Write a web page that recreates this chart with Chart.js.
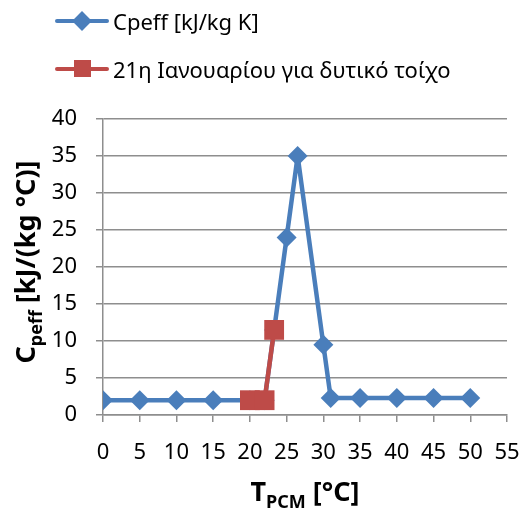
<!DOCTYPE html>
<html>
<head>
<meta charset="utf-8">
<script src="https://cdn.jsdelivr.net/npm/chart.js@4.4.1/dist/chart.umd.min.js"></script>
<style>
  html, body { margin: 0; padding: 0; background: #fff; }
  #wrap { position: relative; width: 523px; height: 512px; }
  #chart { position: absolute; left: 0; top: 0; }
  .leg { position: absolute; left: 55px; height: 26px; display: flex; align-items: center;
         font-family: "Noto Sans", sans-serif; font-size: 22px; color: #000; white-space: nowrap; }
  .sw { position: relative; width: 54px; height: 26px; margin-right: 4px; }
  .sw .ln { position: absolute; left: 0; right: 0; top: 11px; height: 4px; border-radius: 2px; }
  .sw .mk { position: absolute; }
</style>
</head>
<body>
<div id="wrap">
  <canvas id="chart" width="523" height="512"></canvas>
  <div class="leg" style="top:8px">
    <div class="sw"><div class="ln" style="background:#4a7ebb"></div>
      <div class="mk" style="left:20px;top:6px;width:14px;height:14px;background:#4a7ebb;transform:rotate(45deg)"></div></div>
    <span>Cpeff [kJ/kg K]</span>
  </div>
  <div class="leg" style="top:56px">
    <div class="sw"><div class="ln" style="background:#be4b48"></div>
      <div class="mk" style="left:19px;top:4px;width:17px;height:17px;background:#be4b48"></div></div>
    <span>21η Ιανουαρίου για δυτικό τοίχο</span>
  </div>
</div>
<script>
// values
const cpeffT = [0, 5, 10, 15, 20, 22, 23.3, 25, 26.5, 30, 31, 35, 40, 45, 50];
const cpeffVal = [2, 2, 2, 2, 2, 2, 11.5, 24, 35, 9.5, 2.3, 2.3, 2.3, 2.3, 2.3];
const janT = [20, 22, 23.3];
const janVal = [2, 2, 11.5];

const BLUE = '#4a7ebb';
const RED = '#be4b48';
const GRID = '#8e8e8e';
const FONT = '"Noto Sans", sans-serif';

const toXY = (xs, ys) => xs.map((x, i) => ({ x, y: ys[i] }));

// axis titles with subscripts
const axisTitles = {
  id: 'axisTitles',
  afterDraw(chart) {
    const ctx = chart.ctx, a = chart.chartArea;
    const big = 'bold 27px ' + FONT, small = 'bold 18px ' + FONT;
    function parts(list) {
      let w = 0;
      list.forEach(p => { ctx.font = p[1]; p.w = ctx.measureText(p[0]).width; w += p.w; });
      return w;
    }
    function draw(list, x0, y0) {
      let x = x0;
      list.forEach(p => { ctx.font = p[1]; ctx.fillText(p[0], x, y0 + p[2]); x += p.w; });
    }
    ctx.save();
    ctx.fillStyle = '#000';
    ctx.textBaseline = 'alphabetic';
    // x title
    const xt = [['T', big, 0], ['PCM', small, 7], [' [°C]', big, 0]];
    const xw = parts(xt);
    draw(xt, (a.left + a.right) / 2 - xw / 2, 501);
    // y title
    const yt = [['C', big, 0], ['peff', small, 7], [' [kJ/(kg °C)]', big, 0]];
    const yw = parts(yt);
    ctx.translate(35, 262);
    ctx.rotate(-Math.PI / 2);
    draw(yt, -yw / 2, 0);
    ctx.restore();
  }
};

new Chart(document.getElementById('chart'), {
  type: 'scatter',
  data: {
    datasets: [
      {
        label: '21η Ιανουαρίου για δυτικό τοίχο',
        data: toXY(janT, janVal),
        showLine: true,
        borderColor: RED,
        backgroundColor: RED,
        borderWidth: 4.5,
        borderJoinStyle: 'round',
        pointStyle: 'rect',
        pointRadius: 14,
        pointBorderWidth: 0,
      },
      {
        label: 'Cpeff [kJ/kg K]',
        data: toXY(cpeffT, cpeffVal),
        showLine: true,
        borderColor: BLUE,
        backgroundColor: BLUE,
        borderWidth: 4.5,
        borderJoinStyle: 'round',
        pointStyle: 'rectRot',
        pointRadius: 10,
        pointBorderWidth: 0,
      },
    ],
  },
  options: {
    responsive: false,
    animation: false,
    layout: { padding: { top: 119, right: 16, left: 0, bottom: 0 } },
    plugins: { legend: { display: false }, tooltip: { enabled: false } },
    scales: {
      x: {
        type: 'linear', min: 0, max: 55,
        ticks: { stepSize: 5, color: '#000', font: { family: FONT, size: 22 }, padding: 18, maxRotation: 0 },
        grid: { display: true, drawOnChartArea: false, color: GRID, lineWidth: 1.5, tickLength: 7 },
        border: { color: GRID, width: 1.5 },
        afterFit(s) { s.height = 97; s.paddingLeft = 0; s.paddingRight = 0; },
      },
      y: {
        min: 0, max: 40,
        ticks: { stepSize: 5, color: '#000', font: { family: FONT, size: 22 }, padding: 19 },
        grid: { color: GRID, lineWidth: 1.5, tickLength: 7 },
        border: { color: GRID, width: 1.5 },
        afterFit(s) { s.width = 103; s.paddingTop = 0; s.paddingBottom = 0; },
      },
    },
  },
  plugins: [axisTitles],
});
</script>
</body>
</html>
